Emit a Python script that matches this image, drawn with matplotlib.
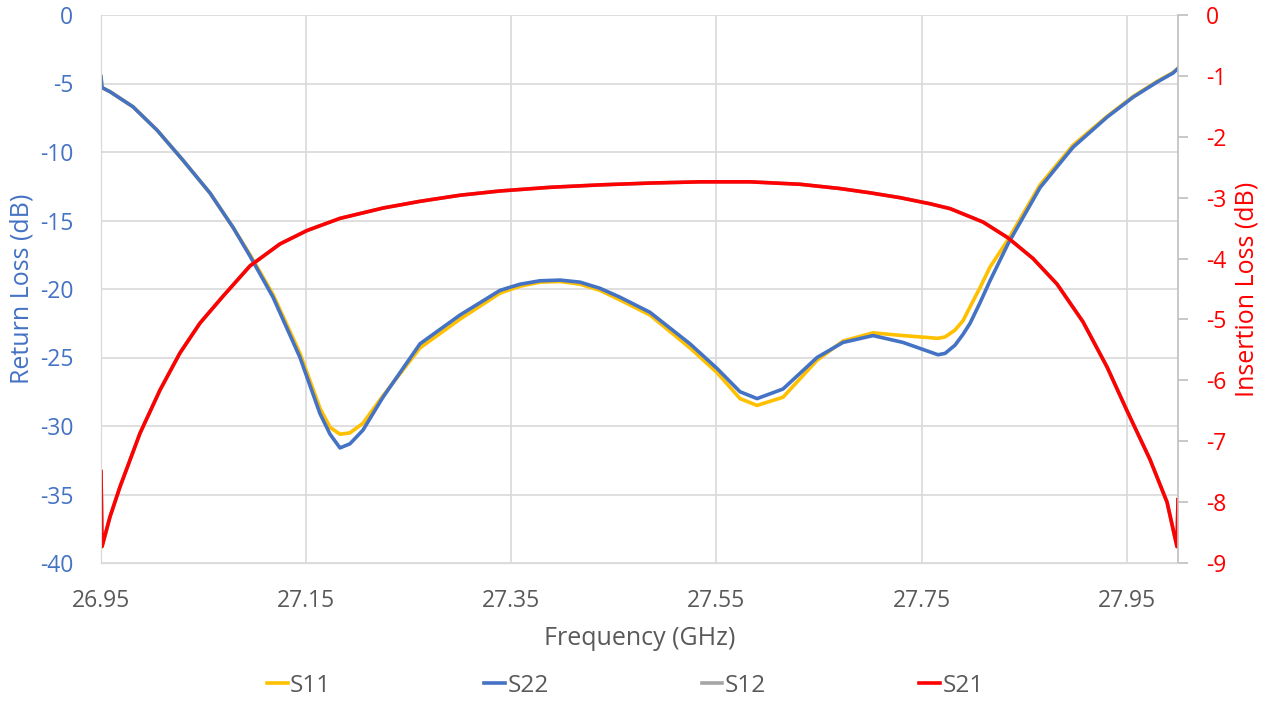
import matplotlib.pyplot as plt

plt.rcParams['font.family'] = ['Open Sans', 'DejaVu Sans']
plt.rcParams['axes.unicode_minus'] = False

# Return loss curves (left axis, dB)
freq_rl = [26.950, 26.951, 26.9588, 26.9812, 27.0046, 27.0299, 27.0563, 27.0787,
           27.0953, 27.1177, 27.144, 27.1635, 27.1733, 27.183, 27.1927, 27.2054,
           27.2249, 27.261, 27.300, 27.339, 27.3585, 27.378, 27.3975, 27.417,
           27.4365, 27.456, 27.4852, 27.5242, 27.5506, 27.573, 27.5896, 27.6149,
           27.6481, 27.6734, 27.7027, 27.7319, 27.766, 27.7729, 27.7826, 27.7905,
           27.7973, 27.807, 27.8167, 27.8343, 27.8655, 27.8977, 27.9308, 27.9562,
           27.9795, 27.9951, 28.000]
s22 = [-4.5, -5.3, -5.6, -6.7, -8.4, -10.6, -13.0, -15.5,
       -17.6, -20.6, -25.0, -29.1, -30.6, -31.6, -31.3, -30.3,
       -27.9, -24.0, -21.9, -20.1, -19.65, -19.4, -19.35, -19.5,
       -19.95, -20.6, -21.7, -24.0, -25.8, -27.5, -28.0, -27.3,
       -25.0, -23.9, -23.4, -23.9, -24.8, -24.7, -24.1, -23.3,
       -22.5, -21.0, -19.4, -16.7, -12.6, -9.65, -7.46, -6.0,
       -4.9, -4.24, -3.9]
s11 = [-4.5, -5.3, -5.6, -6.7, -8.4, -10.6, -13.0, -15.5,
       -17.5, -20.4, -24.7, -28.7, -30.1, -30.6, -30.5, -29.8,
       -27.8, -24.3, -22.2, -20.3, -19.8, -19.5, -19.45, -19.65,
       -20.1, -20.8, -21.9, -24.3, -26.1, -28.0, -28.5, -27.9,
       -25.2, -23.8, -23.2, -23.4, -23.6, -23.5, -23.0, -22.3,
       -21.3, -19.9, -18.4, -16.4, -12.4, -9.5, -7.4, -5.95,
       -4.85, -4.2, -3.9]

# Insertion loss curves (right axis, dB)
freq_il = [26.950, 26.951, 26.9588, 26.9685, 26.9880, 27.0075, 27.0270, 27.0465,
           27.0689, 27.0953, 27.1245, 27.1508, 27.183, 27.225, 27.261, 27.300,
           27.339, 27.3878, 27.4365, 27.4853, 27.534, 27.5828, 27.6315, 27.6705,
           27.6997, 27.7290, 27.7582, 27.7778, 27.8099, 27.8343, 27.8587, 27.8821,
           27.9074, 27.9308, 27.9503, 27.9727, 27.9893, 27.999, 28.000]
s21 = [-7.5, -8.73, -8.24, -7.75, -6.87, -6.16, -5.55, -5.06,
       -4.62, -4.12, -3.76, -3.54, -3.34, -3.17, -3.06, -2.96,
       -2.89, -2.83, -2.79, -2.76, -2.74, -2.74, -2.78, -2.85,
       -2.92, -3.00, -3.10, -3.18, -3.40, -3.66, -4.00, -4.42,
       -5.04, -5.78, -6.50, -7.30, -8.00, -8.73, -7.96]
s12 = list(s21)

xticks = [26.95, 27.15, 27.35, 27.55, 27.75, 27.95]

blue = '#4472C4'
gold = '#FFC000'
grey = '#A5A5A5'
red = '#FF0000'
text_grey = '#595959'
grid_grey = '#D9D9D9'

fig = plt.figure(figsize=(12.76, 7.02), dpi=100)
ax = fig.add_axes([101 / 1276, 1 - 563 / 702, (1178 - 101) / 1276, (563 - 15) / 702])
ax2 = ax.twinx()

l11, = ax.plot(freq_rl, s11, color=gold, lw=2.6, label='S11')
l22, = ax.plot(freq_rl, s22, color=blue, lw=2.6, label='S22')
l12, = ax2.plot(freq_il, s12, color=grey, lw=2.6, label='S12')
l21, = ax2.plot(freq_il, s21, color=red, lw=2.6, label='S21')

ax.set_xlim(26.95, 28.0)
ax.set_ylim(-40, 0)
ax2.set_ylim(-9, 0)
ax.set_xticks(xticks)
ax.set_xticklabels([f'{v:.2f}' for v in xticks])
ax.set_yticks(range(-40, 1, 5))
ax2.set_yticks(range(-9, 1, 1))

ax.grid(True, color=grid_grey, lw=1.2)
ax.set_axisbelow(True)
ax.tick_params(axis='x', length=0, pad=19, labelsize=16.5, labelcolor=text_grey)
ax.tick_params(axis='y', length=0, pad=20, labelsize=16.5, labelcolor=blue)
ax2.tick_params(axis='y', length=7, width=1.2, color='#BFBFBF', pad=13,
                labelsize=16.5, labelcolor=red)

for a in (ax, ax2):
    a.spines['top'].set_visible(False)
    a.spines['left'].set_color(grid_grey)
    a.spines['bottom'].set_color(grid_grey)
    a.spines['right'].set_color('#BFBFBF')
    a.spines['right'].set_linewidth(1.2)
ax.spines['right'].set_visible(False)

ax.set_xlabel('Frequency (GHz)', fontsize=18, color=text_grey, labelpad=9)
ax.set_ylabel('Return Loss (dB)', fontsize=18, color=blue, labelpad=4)
ax2.set_ylabel('Insertion Loss (dB)', fontsize=18, color=red, labelpad=6)

fig.legend(handles=[l11, l22, l12, l21], loc='center', ncol=4,
           bbox_to_anchor=(0.49, 1 - 686 / 702), frameon=False, fontsize=17.5,
           handlelength=0.85, handletextpad=0.1, columnspacing=6.3,
           labelcolor=text_grey)

fig.savefig('out.png', dpi=100)
plt.close(fig)
